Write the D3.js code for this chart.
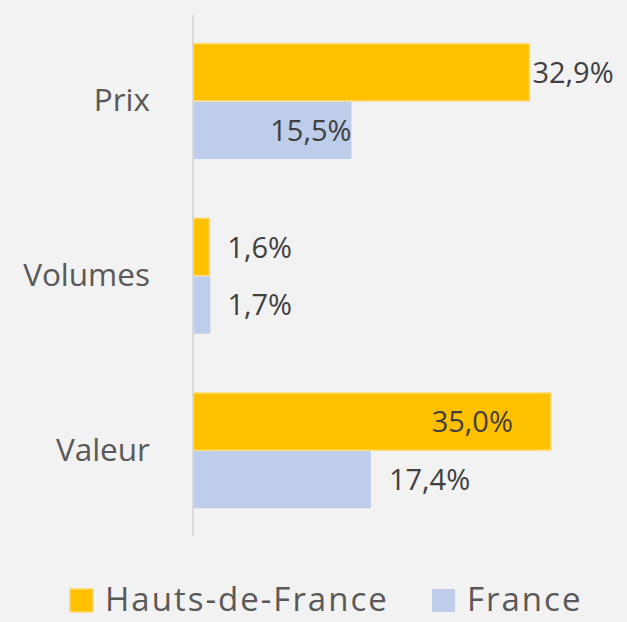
<!DOCTYPE html>
<html>
<head>
<meta charset="utf-8">
<script src="https://cdn.jsdelivr.net/npm/d3@7"></script>
<style>
  html, body { margin: 0; padding: 0; background: #f2f2f2; }
  svg { display: block; font-family: "Open Sans", sans-serif; }
</style>
</head>
<body>
<div id="chart"></div>
<script>
// Data
var categories = ['Prix', 'Volumes', 'Valeur'];
var series = ['Hauts-de-France', 'France'];
var hdf_values = [32.9, 1.6, 35.0];
var france_values = [15.5, 1.7, 17.4];

var chart_width = 627;
var chart_height = 622;
var colors = ['#ffc000', '#bdcdea'];

// label placement like the original (some labels were moved by hand)
var label_dx = [[3, 18, -38], [0, 17, 18]];
var label_anchor = [['start', 'start', 'end'], ['end', 'start', 'start']];

var rows = categories.map(function(c, i){
    return { cat: c, i: i, values: [hdf_values[i], france_values[i]] };
});

var svg = d3.select('#chart')
    .append('svg')
    .attr('width', chart_width)
    .attr('height', chart_height);

svg.append('rect')
    .attr('width', chart_width)
    .attr('height', chart_height)
    .attr('fill', '#f2f2f2');

var y = d3.scaleBand()
    .domain(categories)
    .range([14, 538])
    .paddingInner(0.34)
    .paddingOuter(0.17);

var y_inner = d3.scaleBand()
    .domain(series)
    .range([0, y.bandwidth()]);

var x = d3.scaleLinear()
    .domain([0, 40])
    .range([193, 602]);

var groups = svg.selectAll('g.cat')
    .data(rows)
    .enter()
    .append('g')
    .attr('class', 'cat')
    .attr('transform', function(d){ return 'translate(0,' + y(d.cat) + ')'; });

groups.selectAll('rect')
    .data(function(d){
        return d.values.map(function(v, s){ return { v: v, s: s, i: d.i }; });
    })
    .enter()
    .append('rect')
    .attr('x', x(0))
    .attr('y', function(d){ return y_inner(series[d.s]) + (d.s === 1 ? 0.5 : 0); })
    .attr('width', function(d){ return x(d.v) - x(0); })
    .attr('height', function(d){ return y_inner.bandwidth() - 0.5; })
    .attr('fill', function(d){ return colors[d.s]; })
    .attr('stroke', function(d){ return d.s === 0 ? '#ffd966' : 'none'; })
    .attr('stroke-width', 1.5);

groups.selectAll('text.val')
    .data(function(d){
        return d.values.map(function(v, s){ return { v: v, s: s, i: d.i }; });
    })
    .enter()
    .append('text')
    .attr('class', 'val')
    .attr('x', function(d){ return x(d.v) + label_dx[d.s][d.i]; })
    .attr('y', function(d){ return y_inner(series[d.s]) + y_inner.bandwidth() / 2; })
    .attr('dy', '0.36em')
    .attr('text-anchor', function(d){ return label_anchor[d.s][d.i]; })
    .attr('font-size', 29)
    .attr('fill', '#404040')
    .text(function(d){ return d3.format('.1f')(d.v).replace('.', ',') + '%'; });

// axis
var y_axis = d3.axisLeft(y).tickSize(0).tickPadding(43);
var axis_g = svg.append('g')
    .attr('transform', 'translate(' + x(0) + ',0)')
    .call(y_axis);
axis_g.select('.domain')
    .attr('d', 'M0,15V536')
    .attr('stroke', '#d9d9d9')
    .attr('stroke-width', 2);
axis_g.selectAll('text')
    .attr('font-size', 31.5)
    .attr('font-family', '"Open Sans", sans-serif')
    .attr('fill', '#595959');

// legend
var legend_x = [70, 432];
var legend = svg.selectAll('g.legend')
    .data(series)
    .enter()
    .append('g')
    .attr('class', 'legend')
    .attr('transform', function(d, i){ return 'translate(' + legend_x[i] + ',589)'; });

legend.append('rect')
    .attr('width', 23)
    .attr('height', 23)
    .attr('fill', function(d, i){ return colors[i]; })
    .attr('stroke', function(d, i){ return i === 0 ? '#ffd966' : 'none'; })
    .attr('stroke-width', 1.5);

legend.append('text')
    .attr('x', 35)
    .attr('y', 10)
    .attr('dy', '0.36em')
    .attr('font-size', 33)
    .attr('letter-spacing', 2)
    .attr('fill', '#595959')
    .text(function(d){ return d; });
</script>
</body>
</html>
